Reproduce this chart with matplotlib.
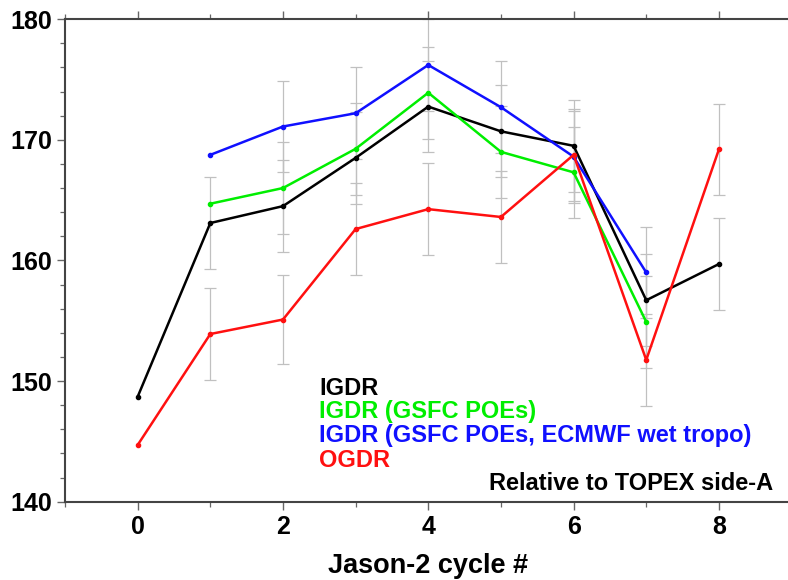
import matplotlib
matplotlib.use("Agg")
import matplotlib.pyplot as plt
import numpy as np
from matplotlib.ticker import MultipleLocator

cycles = [0, 1, 2, 3, 4, 5, 6, 7, 8]

igdr = [148.7, 163.1, 164.5, 168.5, 172.75, 170.7, 169.5, 156.7, 159.7]
igdr_err = [np.nan, 3.8, 3.8, 3.8, 3.8, 3.8, 3.8, 3.8, 3.8]

igdr_gsfc = [np.nan, 164.7, 166.0, 169.25, 173.9, 169.0, 167.3, 154.9, np.nan]
igdr_gsfc_err = [np.nan, np.nan, 3.8, 3.8, 3.8, 3.8, 3.8, 3.8, np.nan]

igdr_ecmwf = [np.nan, 168.75, 171.1, 172.2, 176.2, 172.7, 168.6, 159.0, np.nan]
igdr_ecmwf_err = [np.nan, np.nan, 3.8, 3.8, 3.8, 3.8, 3.8, 3.8, np.nan]

ogdr = [144.7, 153.9, 155.1, 162.6, 164.25, 163.6, 168.75, 151.75, 169.2]
ogdr_err = [np.nan, 3.8, 3.7, 3.8, 3.8, 3.8, 3.8, 3.8, 3.8]

series = [
    ("IGDR", igdr, igdr_err, "black"),
    ("IGDR (GSFC POEs)", igdr_gsfc, igdr_gsfc_err, "#00ee00"),
    ("IGDR (GSFC POEs, ECMWF wet tropo)", igdr_ecmwf, igdr_ecmwf_err, "#1010ff"),
    ("OGDR", ogdr, ogdr_err, "#ff1010"),
]

plt.rcParams["font.family"] = ["Liberation Sans", "DejaVu Sans"]
plt.rcParams["font.weight"] = "bold"

fig = plt.figure(figsize=(7.88, 5.80), dpi=100)
ax = fig.add_axes([0.0825, 0.135, 0.922, 0.832])

x = np.array(cycles)
# error bars first, light gray
for name, vals, err, color in series:
    ax.errorbar(x, vals, yerr=err, fmt="none", ecolor="#c0c0c0",
                elinewidth=0.9, capsize=4.5, capthick=0.9, zorder=1)
for name, vals, err, color in series:
    ax.plot(x, vals, color=color, lw=1.8, marker="o", ms=3, zorder=3)

ax.set_xlim(-1, 9)
ax.set_ylim(140, 180)
ax.xaxis.set_major_locator(MultipleLocator(2))
ax.xaxis.set_minor_locator(MultipleLocator(1))
ax.yaxis.set_major_locator(MultipleLocator(10))
ax.yaxis.set_minor_locator(MultipleLocator(2))
ax.tick_params(which="both", direction="out", top=True, right=False,
               color="#666666", labelsize=18, pad=3.4)
ax.tick_params(which="major", length=6, width=1.0)
ax.tick_params(which="minor", length=3.6, width=0.9)
for side in ["left", "bottom", "top"]:
    ax.spines[side].set_linewidth(1.5)
    ax.spines[side].set_color("#444444")
ax.spines["right"].set_visible(False)

ax.set_xlabel("Jason-2 cycle #", fontsize=19.5, fontweight="bold", va="baseline")
ax.xaxis.set_label_coords(0.5, -0.148)

ybase = [0.2212, 0.1729, 0.1231, 0.0726]
for (name, vals, err, color), yb in zip(series, ybase):
    ax.text(0.35, yb, name, transform=ax.transAxes, color=color,
            fontsize=17, fontweight="bold", va="baseline")
ax.text(0.975, 0.0243, "Relative to TOPEX side-A", transform=ax.transAxes,
        fontsize=17, fontweight="bold", ha="right", va="baseline")

fig.savefig("out.png", dpi=100)
